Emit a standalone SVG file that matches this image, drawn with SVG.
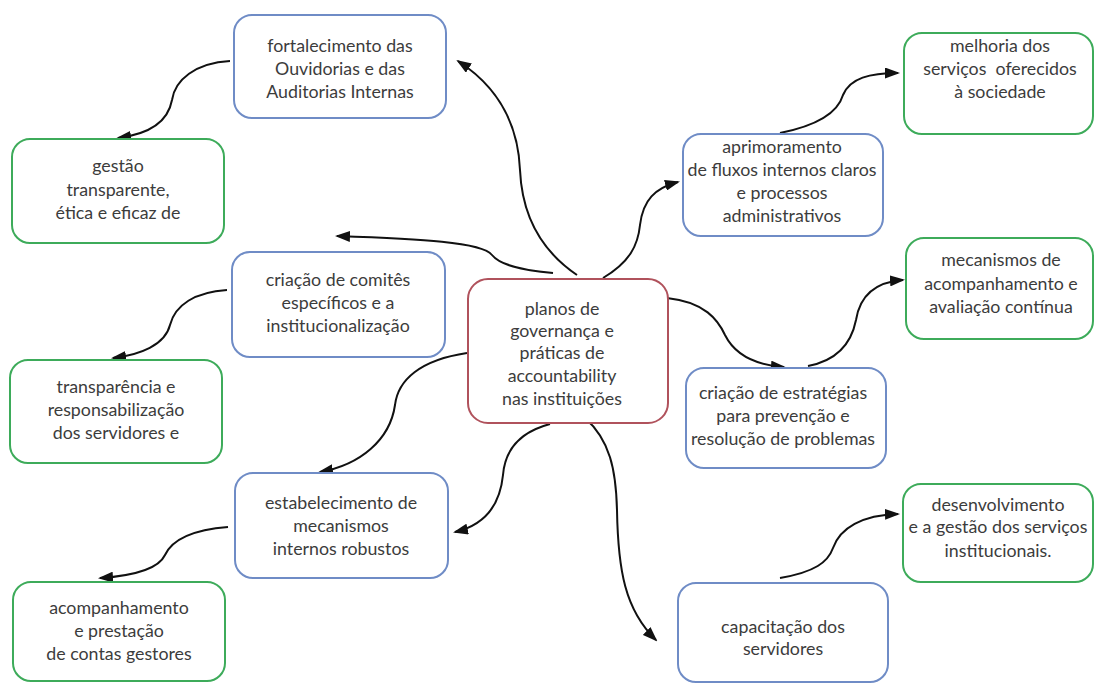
<svg xmlns="http://www.w3.org/2000/svg" width="1095" height="683" viewBox="0 0 1095 683">
<defs>
<marker id="arr" markerUnits="userSpaceOnUse" markerWidth="15" markerHeight="11" refX="13" refY="5.5" orient="auto">
<path d="M0,0 L15,5.5 L0,11 z" fill="#111"/>
</marker>
<style>
.box{fill:#fff;stroke-width:2}
.blue{stroke:#6f8cc6}
.green{stroke:#3dab5a}
.red{stroke:#b0525c}
.t{font-family:Lato,"Open Sans","Liberation Sans",sans-serif;font-size:17.8px;fill:#3c3c3c;text-anchor:middle}
.c{fill:none;stroke:#111;stroke-width:2;marker-end:url(#arr)}
</style>
</defs>
<rect width="1095" height="683" fill="#fff"/>
<g id="connectors">
<path class="c" d="M577,275 C540,250 522,215 520,170 C518,120 495,85 458,61"/>
<path class="c" d="M553,273 C520,270 500,265 492,255 C482,242 420,239 337,236"/>
<path class="c" d="M603,278 C630,262 638,245 640,225 C643,200 655,188 678,182"/>
<path class="c" d="M780,133 C820,125 838,112 843,95 C850,78 870,73 898,73"/>
<path class="c" d="M667,298 C705,302 718,320 725,335 C735,355 755,365 784,367"/>
<path class="c" d="M808,366 C840,360 852,340 856,320 C860,295 875,282 903,280"/>
<path class="c" d="M780,578 C815,572 828,562 833,548 C840,528 862,515 898,514"/>
<path class="c" d="M585,418 C610,440 616,470 617,510 C618,570 625,610 656,640"/>
<path class="c" d="M550,424 C520,432 505,450 503,475 C500,505 485,525 455,532"/>
<path class="c" d="M467,353 C420,360 398,380 395,405 C390,440 360,465 320,472"/>
<path class="c" d="M230,61 C195,63 175,80 172,100 C168,122 150,134 118,138"/>
<path class="c" d="M227,290 C195,292 175,305 170,325 C165,345 140,355 113,358"/>
<path class="c" d="M228,527 C190,530 172,540 165,555 C158,570 130,576 100,578"/>
</g>
<g id="center">
<rect class="box red" x="468" y="279" width="200" height="144" rx="20"/>
<text class="t"><tspan x="562" y="315">planos de</tspan><tspan x="562" y="337">governança e</tspan><tspan x="562" y="359">práticas de</tspan><tspan x="562" y="382">accountability</tspan><tspan x="562" y="405">nas instituições</tspan></text>
</g>
<g id="fortalecimento">
<rect class="box blue" x="234" y="15" width="212" height="103" rx="18"/>
<text class="t"><tspan x="340" y="52">fortalecimento das</tspan><tspan x="340" y="75">Ouvidorias e das</tspan><tspan x="340" y="98">Auditorias Internas</tspan></text>
</g>
<g id="gestao">
<rect class="box green" x="12" y="139" width="212" height="104" rx="18"/>
<text class="t"><tspan x="118" y="172">gestão</tspan><tspan x="118" y="196">transparente,</tspan><tspan x="118" y="219">ética e eficaz de</tspan></text>
</g>
<g id="comites">
<rect class="box blue" x="232" y="252" width="213" height="105" rx="18"/>
<text class="t"><tspan x="338" y="286">criação de comitês</tspan><tspan x="338" y="309">específicos e a</tspan><tspan x="338" y="332">institucionalização</tspan></text>
</g>
<g id="transparencia">
<rect class="box green" x="10" y="360" width="212" height="103" rx="18"/>
<text class="t"><tspan x="116" y="393">transparência e</tspan><tspan x="116" y="416">responsabilização</tspan><tspan x="116" y="439">dos servidores e</tspan></text>
</g>
<g id="estabelecimento">
<rect class="box blue" x="235" y="473" width="213" height="105" rx="18"/>
<text class="t"><tspan x="341" y="509">estabelecimento de</tspan><tspan x="341" y="532">mecanismos</tspan><tspan x="341" y="555">internos robustos</tspan></text>
</g>
<g id="acompanhamento">
<rect class="box green" x="13" y="582" width="212" height="99" rx="18"/>
<text class="t"><tspan x="119" y="614">acompanhamento</tspan><tspan x="119" y="637">e prestação</tspan><tspan x="119" y="660">de contas gestores</tspan></text>
</g>
<g id="aprimoramento">
<rect class="box blue" x="683" y="134" width="200" height="102" rx="18"/>
<text class="t"><tspan x="782" y="153">aprimoramento</tspan><tspan x="782" y="176">de fluxos internos claros</tspan><tspan x="782" y="199">e processos</tspan><tspan x="782" y="222">administrativos</tspan></text>
</g>
<g id="melhoria">
<rect class="box green" x="904" y="33" width="189" height="101" rx="18"/>
<text class="t"><tspan x="1000" y="52">melhoria dos</tspan><tspan x="1000" y="75" xml:space="preserve">serviços  oferecidos</tspan><tspan x="1000" y="98">à sociedade</tspan></text>
</g>
<g id="mecanismos">
<rect class="box green" x="906" y="238" width="187" height="101" rx="18"/>
<text class="t"><tspan x="1001" y="266">mecanismos de</tspan><tspan x="1001" y="290">acompanhamento e</tspan><tspan x="1001" y="313">avaliação contínua</tspan></text>
</g>
<g id="estrategias">
<rect class="box blue" x="686" y="368" width="200" height="100" rx="18"/>
<text class="t"><tspan x="783" y="399">criação de estratégias</tspan><tspan x="783" y="422">para prevenção e</tspan><tspan x="783" y="445">resolução de problemas</tspan></text>
</g>
<g id="desenvolvimento">
<rect class="box green" x="903" y="484" width="190" height="98" rx="18"/>
<text class="t"><tspan x="998" y="511">desenvolvimento</tspan><tspan x="998" y="533">e a gestão dos serviços</tspan><tspan x="998" y="557">institucionais.</tspan></text>
</g>
<g id="capacitacao">
<rect class="box blue" x="678" y="583" width="210" height="99" rx="18"/>
<text class="t"><tspan x="783" y="633">capacitação dos</tspan><tspan x="783" y="655">servidores</tspan></text>
</g>
</svg>
